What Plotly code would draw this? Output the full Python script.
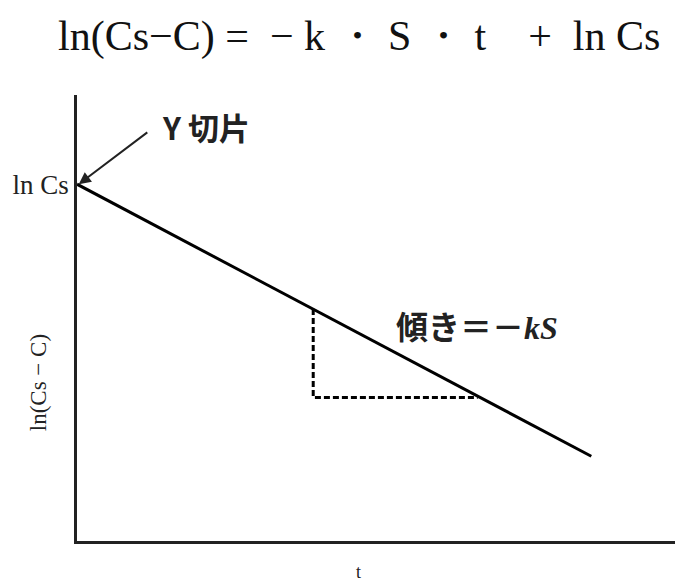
import plotly.graph_objects as go

# main line: ln(Cs - C) against t
t_line = [0, 8.6]
y_line = [8.0, 1.9]

# dashed slope triangle
tri_t = [3.95, 3.95, 6.7]
tri_y = [5.2, 3.22, 3.22]

y_tick_vals = [8.0]
y_tick_text = ["ln Cs"]

serif = "Liberation Serif, Times New Roman, serif"
jp = "Noto Sans CJK JP"

fig = go.Figure()

fig.add_trace(go.Scatter(x=t_line, y=y_line, mode="lines",
                         line=dict(color="black", width=3),
                         showlegend=False, hoverinfo="skip"))

fig.add_trace(go.Scatter(x=tri_t, y=tri_y, mode="lines",
                         line=dict(color="black", width=3, dash="6px,3px"),
                         showlegend=False, hoverinfo="skip"))

# intercept arrow
fig.add_annotation(x=t_line[0] + 0.03, y=y_line[0], xref="x", yref="y",
                   ax=70, ay=-53, showarrow=True,
                   arrowhead=2, arrowsize=1.2, arrowwidth=2, arrowcolor="#222",
                   text="")
fig.add_annotation(x=1.38, y=9.3, xref="x", yref="y", showarrow=False,
                   text="<b>Y 切片</b>", xanchor="left",
                   font=dict(family=jp, size=31, color="#222"))

fig.add_annotation(x=5.3, y=4.85, xref="x", yref="y", showarrow=False,
                   text="<b>傾き＝－<span style='font-family:Liberation Serif'><i>kS</i></span></b>",
                   xanchor="left",
                   font=dict(family=jp, size=32, color="#222"))

# axis titles
fig.add_annotation(x=-0.065, y=0.354, xref="paper", yref="paper", showarrow=False,
                   text="ln(Cs − C)", textangle=-90, xanchor="center", yanchor="middle",
                   font=dict(family=serif, size=23, color="#222"))
fig.add_annotation(x=0.47, y=-0.07, xref="paper", yref="paper", showarrow=False,
                   text="t", xanchor="center", yanchor="middle",
                   font=dict(family=serif, size=18, color="#222"))

fig.update_xaxes(range=[0, 10], showline=True, linecolor="#222", linewidth=2.5,
                 showgrid=False, zeroline=False, showticklabels=False, ticks="",
                 automargin=False)
fig.update_yaxes(range=[0, 10], showline=True, linecolor="#222", linewidth=2.5,
                 showgrid=False, zeroline=False, ticks="",
                 tickvals=y_tick_vals, ticktext=y_tick_text,
                 tickfont=dict(family=serif, size=27, color="#222"),
                 automargin=False)

# page body adds an 8px offset, so the figure is 8px smaller than the window
fig.update_layout(
    width=690, height=575,
    margin=dict(l=69, r=23, t=87, b=42),
    plot_bgcolor="white", paper_bgcolor="white",
    title=dict(text="ln(Cs−C) =  − k ・ S ・ t    +  ln Cs",
               x=0.509, xanchor="center", y=0.953, yanchor="middle",
               font=dict(family=serif, size=42, color="#111")),
)

fig.write_html("out.html")
